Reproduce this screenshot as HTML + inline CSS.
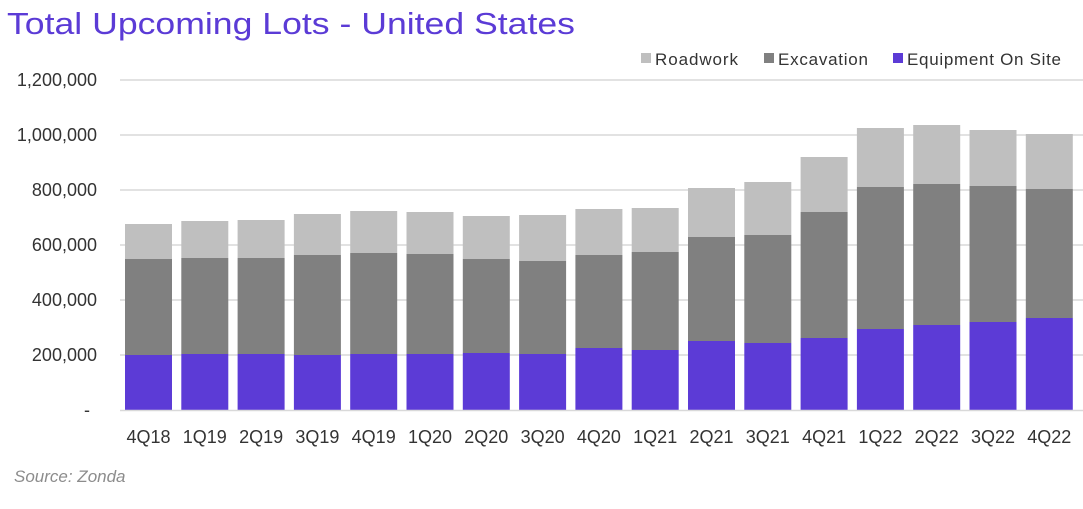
<!DOCTYPE html>
<html><head><meta charset="utf-8"><style>
body{margin:0;background:#fff;}
svg text{font-family:"Liberation Sans",sans-serif;}
</style></head><body>
<svg width="1083" height="504" xmlns="http://www.w3.org/2000/svg">
<text x="7" y="34" font-size="31" fill="#5b3bd6" textLength="568" lengthAdjust="spacingAndGlyphs">Total Upcoming Lots - United States</text>
<rect x="641" y="53" width="10" height="10" fill="#bfbfbf"/><text x="655" y="65" font-size="17" fill="#333" textLength="83">Roadwork</text>
<rect x="764" y="53" width="10" height="10" fill="#808080"/><text x="778" y="65" font-size="17" fill="#333" textLength="90">Excavation</text>
<rect x="893" y="53" width="10" height="10" fill="#5c3bd6"/><text x="907" y="65" font-size="17" fill="#333" textLength="154">Equipment On Site</text>
<g stroke="#d9d9d9" stroke-width="1.5">
<line x1="120" x2="1083" y1="80" y2="80"/><line x1="120" x2="1083" y1="135" y2="135"/><line x1="120" x2="1083" y1="190" y2="190"/><line x1="120" x2="1083" y1="245" y2="245"/><line x1="120" x2="1083" y1="300" y2="300"/><line x1="120" x2="1083" y1="355" y2="355"/>
</g>
<g font-size="18" fill="#333" text-anchor="end">
<text x="97" y="86">1,200,000</text><text x="97" y="141">1,000,000</text><text x="97" y="196">800,000</text><text x="97" y="251">600,000</text><text x="97" y="306">400,000</text><text x="97" y="361">200,000</text><text x="90" y="416">-</text>
</g>
<g>
<rect x="125" y="224" width="47" height="35" fill="#bfbfbf"/><rect x="125" y="259" width="47" height="96" fill="#808080"/><rect x="125" y="355" width="47" height="55" fill="#5c3bd6"/>
<rect x="181.3" y="221" width="47" height="37" fill="#bfbfbf"/><rect x="181.3" y="258" width="47" height="96" fill="#808080"/><rect x="181.3" y="354" width="47" height="56" fill="#5c3bd6"/>
<rect x="237.6" y="220" width="47" height="38" fill="#bfbfbf"/><rect x="237.6" y="258" width="47" height="96" fill="#808080"/><rect x="237.6" y="354" width="47" height="56" fill="#5c3bd6"/>
<rect x="293.9" y="214" width="47" height="41" fill="#bfbfbf"/><rect x="293.9" y="255" width="47" height="100" fill="#808080"/><rect x="293.9" y="355" width="47" height="55" fill="#5c3bd6"/>
<rect x="350.2" y="211" width="47" height="42" fill="#bfbfbf"/><rect x="350.2" y="253" width="47" height="101" fill="#808080"/><rect x="350.2" y="354" width="47" height="56" fill="#5c3bd6"/>
<rect x="406.5" y="212" width="47" height="42" fill="#bfbfbf"/><rect x="406.5" y="254" width="47" height="100" fill="#808080"/><rect x="406.5" y="354" width="47" height="56" fill="#5c3bd6"/>
<rect x="462.8" y="216" width="47" height="43" fill="#bfbfbf"/><rect x="462.8" y="259" width="47" height="94" fill="#808080"/><rect x="462.8" y="353" width="47" height="57" fill="#5c3bd6"/>
<rect x="519.1" y="215" width="47" height="46" fill="#bfbfbf"/><rect x="519.1" y="261" width="47" height="93" fill="#808080"/><rect x="519.1" y="354" width="47" height="56" fill="#5c3bd6"/>
<rect x="575.4" y="209" width="47" height="46" fill="#bfbfbf"/><rect x="575.4" y="255" width="47" height="93" fill="#808080"/><rect x="575.4" y="348" width="47" height="62" fill="#5c3bd6"/>
<rect x="631.7" y="208" width="47" height="44" fill="#bfbfbf"/><rect x="631.7" y="252" width="47" height="98" fill="#808080"/><rect x="631.7" y="350" width="47" height="60" fill="#5c3bd6"/>
<rect x="688" y="188" width="47" height="49" fill="#bfbfbf"/><rect x="688" y="237" width="47" height="104" fill="#808080"/><rect x="688" y="341" width="47" height="69" fill="#5c3bd6"/>
<rect x="744.3" y="182" width="47" height="53" fill="#bfbfbf"/><rect x="744.3" y="235" width="47" height="108" fill="#808080"/><rect x="744.3" y="343" width="47" height="67" fill="#5c3bd6"/>
<rect x="800.6" y="157" width="47" height="55" fill="#bfbfbf"/><rect x="800.6" y="212" width="47" height="126" fill="#808080"/><rect x="800.6" y="338" width="47" height="72" fill="#5c3bd6"/>
<rect x="856.9" y="128" width="47" height="59" fill="#bfbfbf"/><rect x="856.9" y="187" width="47" height="142" fill="#808080"/><rect x="856.9" y="329" width="47" height="81" fill="#5c3bd6"/>
<rect x="913.2" y="125" width="47" height="59" fill="#bfbfbf"/><rect x="913.2" y="184" width="47" height="141" fill="#808080"/><rect x="913.2" y="325" width="47" height="85" fill="#5c3bd6"/>
<rect x="969.5" y="130" width="47" height="56" fill="#bfbfbf"/><rect x="969.5" y="186" width="47" height="136" fill="#808080"/><rect x="969.5" y="322" width="47" height="88" fill="#5c3bd6"/>
<rect x="1025.8" y="134" width="47" height="55" fill="#bfbfbf"/><rect x="1025.8" y="189" width="47" height="129" fill="#808080"/><rect x="1025.8" y="318" width="47" height="92" fill="#5c3bd6"/>
</g>
<line x1="120" x2="1083" y1="410.5" y2="410.5" stroke="#d9d9d9" stroke-width="1.5"/>
<g font-size="18" fill="#333" text-anchor="middle">
<text x="148.5" y="443">4Q18</text><text x="204.8" y="443">1Q19</text><text x="261.1" y="443">2Q19</text><text x="317.4" y="443">3Q19</text><text x="373.7" y="443">4Q19</text><text x="430" y="443">1Q20</text><text x="486.3" y="443">2Q20</text><text x="542.6" y="443">3Q20</text><text x="598.9" y="443">4Q20</text><text x="655.2" y="443">1Q21</text><text x="711.5" y="443">2Q21</text><text x="767.8" y="443">3Q21</text><text x="824.1" y="443">4Q21</text><text x="880.4" y="443">1Q22</text><text x="936.7" y="443">2Q22</text><text x="993" y="443">3Q22</text><text x="1049.3" y="443">4Q22</text>
</g>
<text x="14" y="482" font-size="17" font-style="italic" fill="#8c8c8c">Source: Zonda</text>
</svg>
</body></html>
